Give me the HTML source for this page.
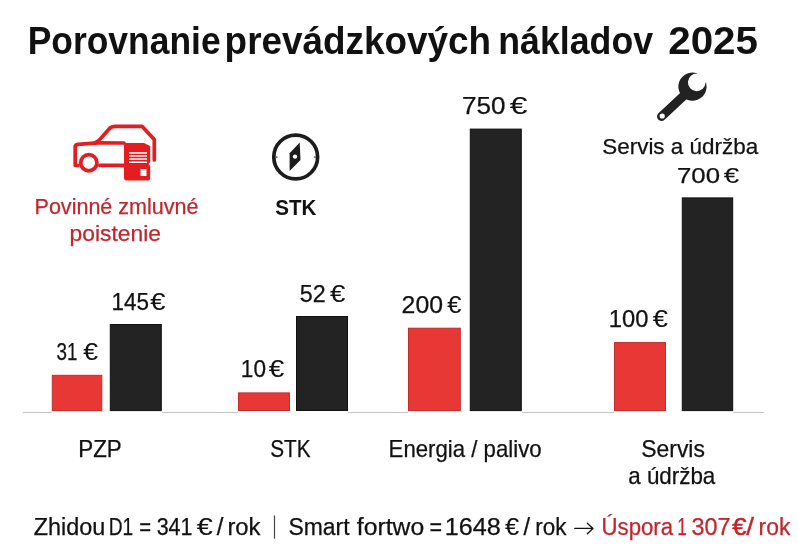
<!DOCTYPE html>
<html><head><meta charset="utf-8">
<style>
html,body{margin:0;padding:0;background:#fff;width:798px;height:557px;overflow:hidden}
svg{display:block;will-change:transform;filter:blur(0.35px)}
text{font-family:"Liberation Sans",sans-serif}
</style></head>
<body>
<svg width="798" height="557" viewBox="0 0 798 557">
<rect width="798" height="557" fill="#fff"/>
<!-- car icon -->
<g fill="none" stroke="#e31d20" stroke-width="3.7" stroke-linejoin="round" stroke-linecap="round">
  <path d="M78 165.3 L75.2 165.3 L75.2 147 Q75.2 144.5 78 144.3 L98 142.8 L124 143"/>
  <path d="M95 143 Q99 141 102 137 L110 128 Q112 126.3 115 126.3 L142 126.3 L154.3 139.5 L154.3 160"/>
  <path d="M99.8 165.3 L124 165.3"/>
  <circle cx="88.8" cy="162.7" r="8.1" stroke-width="3.7"/>
</g>
<path d="M124 143 L144 143 L150.2 146 L150.2 162 L148.5 164 L150.2 166 L150.2 178 Q150.2 180.5 147.5 180.5 L126.5 180.5 Q124 180.5 124 178 Z" fill="#e31d20"/>
<g fill="#fff">
  <rect x="129" y="152.2" width="18" height="1.5"/>
  <rect x="129" y="155.2" width="18" height="1.5"/>
  <rect x="129" y="158.3" width="18" height="1.5"/>
  <rect x="129" y="161.5" width="18" height="1.5"/>
  <rect x="140.5" y="169" width="6" height="7"/>
</g>
<!-- compass -->
<circle cx="295.7" cy="157" r="21.9" fill="none" stroke="#1c1c1c" stroke-width="3.7"/>
<rect x="275.6" y="156.6" width="2" height="1" fill="#1c1c1c"/><rect x="313.8" y="156.6" width="2" height="1" fill="#1c1c1c"/>
<path d="M299.7 142.4 L289.6 153.2 L289.6 171 L300.5 160 Z" fill="#1c1c1c"/>
<circle cx="295" cy="156.6" r="2.2" fill="#fff"/>
<!-- wrench -->
<path d="M696.3 73.1 Q697.2 72.9 697.4 73.6 A8.8 8.8 0 1 0 705.5 82.5 Q706.3 82.7 706.2 83.6 A14.1 14.1 0 1 1 696.3 73.1 Z" fill="#222"/>
<line x1="684" y1="95.5" x2="661.5" y2="116.5" stroke="#222" stroke-width="9" stroke-linecap="round"/>
<circle cx="662.2" cy="116" r="2.6" fill="#fff"/>
<!-- baseline -->
<rect x="23" y="412" width="28.8" height="1" fill="#c4c4c4"/>
<rect x="161.8" y="412" width="76.2" height="1" fill="#c4c4c4"/>
<rect x="348" y="412" width="60.0" height="1" fill="#c4c4c4"/>
<rect x="521.8" y="412" width="92.2" height="1" fill="#c4c4c4"/>
<rect x="733.2" y="412" width="30.8" height="1" fill="#c4c4c4"/>
<!-- bars -->
<rect x="52.3" y="375.3" width="49.5" height="35.3" fill="#e83836" stroke="#c42b2b" stroke-width="1"/>
<rect x="110.3" y="324.5" width="51.0" height="86.1" fill="#232323" stroke="#101010" stroke-width="1"/>
<rect x="238.5" y="392.9" width="51.0" height="17.6" fill="#e83836" stroke="#c42b2b" stroke-width="1"/>
<rect x="296.5" y="316.5" width="51.0" height="94.0" fill="#232323" stroke="#101010" stroke-width="1"/>
<rect x="408.5" y="328.2" width="51.8" height="82.4" fill="#e83836" stroke="#c42b2b" stroke-width="1"/>
<rect x="470.3" y="129.1" width="51.0" height="281.5" fill="#232323" stroke="#101010" stroke-width="1"/>
<rect x="614.5" y="342.6" width="51.0" height="68.0" fill="#e83836" stroke="#c42b2b" stroke-width="1"/>
<rect x="682.3" y="197.9" width="50.4" height="212.7" fill="#232323" stroke="#101010" stroke-width="1"/>
<!-- separator & arrow -->
<rect x="273.9" y="515.5" width="1.2" height="23.2" fill="#444"/>
<path d="M574.8 528.4 H592.8 M587.3 523.2 L593 528.4 L587.3 533.7" fill="none" stroke="#111" stroke-width="1.3" stroke-linecap="round" stroke-linejoin="round"/>

<text x="27.70" y="53.5" font-size="38.5" font-weight="bold" fill="#111" textLength="192.90" lengthAdjust="spacingAndGlyphs">Porovnanie</text><!-- f=0.920 -->
<text x="224.60" y="53.5" font-size="38.5" font-weight="bold" fill="#111" textLength="266.53" lengthAdjust="spacingAndGlyphs">prevádzkových</text><!-- f=0.958 -->
<text x="498.28" y="53.5" font-size="38.5" font-weight="bold" fill="#111" textLength="154.86" lengthAdjust="spacingAndGlyphs">nákladov</text><!-- f=0.928 -->
<text x="668.19" y="53.5" font-size="38.5" font-weight="bold" fill="#111" textLength="89.81" lengthAdjust="spacingAndGlyphs">2025</text><!-- f=1.049 -->
<text x="34.54" y="213.7" font-size="21.4" stroke="#c2262d" stroke-width="0.25" fill="#c2262d" textLength="163.96" lengthAdjust="spacingAndGlyphs">Povinné zmluvné</text><!-- f=1.007 -->
<text x="69.60" y="241.3" font-size="21.4" stroke="#c2262d" stroke-width="0.25" fill="#c2262d" textLength="91.33" lengthAdjust="spacingAndGlyphs">poistenie</text><!-- f=1.067 -->
<text x="275.21" y="215" font-size="22.4" font-weight="bold" fill="#111" textLength="41.15" lengthAdjust="spacingAndGlyphs">STK</text><!-- f=0.919 -->
<text x="602.27" y="153.9" font-size="21.7" stroke="#111" stroke-width="0.25" fill="#111" textLength="155.86" lengthAdjust="spacingAndGlyphs">Servis a údržba</text><!-- f=1.034 -->
<text x="56.52" y="360.4" font-size="24" stroke="#111" stroke-width="0.25" fill="#111" textLength="20.92" lengthAdjust="spacingAndGlyphs">31</text><!-- f=0.784 -->
<text x="83.22" y="360.4" font-size="24" stroke="#111" stroke-width="0.1" fill="#111" textLength="14.76" lengthAdjust="spacingAndGlyphs">€</text><!-- f=1.106 -->
<text x="111.46" y="309.8" font-size="24" stroke="#111" stroke-width="0.25" fill="#111" textLength="37.52" lengthAdjust="spacingAndGlyphs">145</text><!-- f=0.937 -->
<text x="150.22" y="309.8" font-size="24" stroke="#111" stroke-width="0.1" fill="#111" textLength="15.18" lengthAdjust="spacingAndGlyphs">€</text><!-- f=1.137 -->
<text x="240.85" y="377" font-size="24" stroke="#111" stroke-width="0.25" fill="#111" textLength="25.14" lengthAdjust="spacingAndGlyphs">10</text><!-- f=0.942 -->
<text x="268.81" y="377" font-size="24" stroke="#111" stroke-width="0.1" fill="#111" textLength="15.49" lengthAdjust="spacingAndGlyphs">€</text><!-- f=1.161 -->
<text x="299.83" y="301.8" font-size="24" stroke="#111" stroke-width="0.25" fill="#111" textLength="25.93" lengthAdjust="spacingAndGlyphs">52</text><!-- f=0.971 -->
<text x="330.01" y="301.8" font-size="24" stroke="#111" stroke-width="0.1" fill="#111" textLength="15.39" lengthAdjust="spacingAndGlyphs">€</text><!-- f=1.153 -->
<text x="401.61" y="313" font-size="24" stroke="#111" stroke-width="0.25" fill="#111" textLength="41.37" lengthAdjust="spacingAndGlyphs">200</text><!-- f=1.033 -->
<text x="447.34" y="313" font-size="24" stroke="#111" stroke-width="0.1" fill="#111" textLength="14.13" lengthAdjust="spacingAndGlyphs">€</text><!-- f=1.059 -->
<text x="461.94" y="114" font-size="24" stroke="#111" stroke-width="0.25" fill="#111" textLength="43.49" lengthAdjust="spacingAndGlyphs">750</text><!-- f=1.086 -->
<text x="509.87" y="114" font-size="24" stroke="#111" stroke-width="0.1" fill="#111" textLength="17.69" lengthAdjust="spacingAndGlyphs">€</text><!-- f=1.325 -->
<text x="608.77" y="327.4" font-size="24" stroke="#111" stroke-width="0.25" fill="#111" textLength="39.67" lengthAdjust="spacingAndGlyphs">100</text><!-- f=0.991 -->
<text x="652.82" y="327.4" font-size="24" stroke="#111" stroke-width="0.1" fill="#111" textLength="15.18" lengthAdjust="spacingAndGlyphs">€</text><!-- f=1.137 -->
<text x="676.97" y="183.2" font-size="22.6" stroke="#111" stroke-width="0.25" fill="#111" textLength="43.01" lengthAdjust="spacingAndGlyphs">700</text><!-- f=1.141 -->
<text x="723.89" y="183.2" font-size="22.6" stroke="#111" stroke-width="0.1" fill="#111" textLength="15.39" lengthAdjust="spacingAndGlyphs">€</text><!-- f=1.225 -->
<text x="78.27" y="456.5" font-size="23.2" stroke="#111" stroke-width="0.25" fill="#111" textLength="43.53" lengthAdjust="spacingAndGlyphs">PZP</text><!-- f=0.965 -->
<text x="270.21" y="456.9" font-size="23.2" stroke="#111" stroke-width="0.25" fill="#111" textLength="40.30" lengthAdjust="spacingAndGlyphs">STK</text><!-- f=0.894 -->
<text x="388.58" y="456.6" font-size="23.2" stroke="#111" stroke-width="0.25" fill="#111" textLength="153.05" lengthAdjust="spacingAndGlyphs">Energia / palivo</text><!-- f=0.958 -->
<text x="641.31" y="456.6" font-size="23.2" stroke="#111" stroke-width="0.25" fill="#111" textLength="63.60" lengthAdjust="spacingAndGlyphs">Servis</text><!-- f=0.987 -->
<text x="628.24" y="484.1" font-size="23.2" stroke="#111" stroke-width="0.25" fill="#111" textLength="87.05" lengthAdjust="spacingAndGlyphs">a údržba</text><!-- f=0.965 -->
<text x="33.74" y="534.8" font-size="23" stroke="#111" stroke-width="0.25" fill="#111" textLength="71.57" lengthAdjust="spacingAndGlyphs">Zhidou</text><!-- f=1.018 -->
<text x="108.84" y="534.8" font-size="23" stroke="#111" stroke-width="0.25" fill="#111" textLength="24.42" lengthAdjust="spacingAndGlyphs">D1</text><!-- f=0.830 -->
<text x="139.20" y="534.8" font-size="23" stroke="#111" stroke-width="0.25" fill="#111" textLength="11.84" lengthAdjust="spacingAndGlyphs">=</text><!-- f=0.882 -->
<text x="156.67" y="534.8" font-size="23" stroke="#111" stroke-width="0.25" fill="#111" textLength="35.78" lengthAdjust="spacingAndGlyphs">341</text><!-- f=0.932 -->
<text x="196.69" y="534.8" font-size="23" stroke="#111" stroke-width="0.1" fill="#111" textLength="16.08" lengthAdjust="spacingAndGlyphs">€</text><!-- f=1.257 -->
<text x="216.80" y="534.8" font-size="23" stroke="#111" stroke-width="0.25" fill="#111" textLength="6.65" lengthAdjust="spacingAndGlyphs">/</text><!-- f=1.040 -->
<text x="227.45" y="534.8" font-size="23" stroke="#111" stroke-width="0.25" fill="#111" textLength="33.10" lengthAdjust="spacingAndGlyphs">rok</text><!-- f=1.036 -->
<text x="288.40" y="534.8" font-size="23" stroke="#111" stroke-width="0.25" fill="#111" textLength="61.19" lengthAdjust="spacingAndGlyphs">Smart</text><!-- f=0.998 -->
<text x="356.83" y="534.8" font-size="23" stroke="#111" stroke-width="0.25" fill="#111" textLength="67.32" lengthAdjust="spacingAndGlyphs">fortwo</text><!-- f=1.075 -->
<text x="429.53" y="534.8" font-size="23" stroke="#111" stroke-width="0.25" fill="#111" textLength="12.58" lengthAdjust="spacingAndGlyphs">=</text><!-- f=0.936 -->
<text x="444.78" y="534.8" font-size="23" stroke="#111" stroke-width="0.25" fill="#111" textLength="56.02" lengthAdjust="spacingAndGlyphs">1648</text><!-- f=1.095 -->
<text x="504.92" y="534.8" font-size="23" stroke="#111" stroke-width="0.1" fill="#111" textLength="14.20" lengthAdjust="spacingAndGlyphs">€</text><!-- f=1.110 -->
<text x="523.60" y="534.8" font-size="23" stroke="#111" stroke-width="0.25" fill="#111" textLength="6.54" lengthAdjust="spacingAndGlyphs">/</text><!-- f=1.024 -->
<text x="535.24" y="534.8" font-size="23" stroke="#111" stroke-width="0.25" fill="#111" textLength="31.11" lengthAdjust="spacingAndGlyphs">rok</text><!-- f=0.974 -->
<text x="601.61" y="534.8" font-size="23" stroke="#c2262d" stroke-width="0.25" fill="#c2262d" textLength="71.48" lengthAdjust="spacingAndGlyphs">Úspora</text><!-- f=0.964 -->
<text x="677.19" y="534.8" font-size="23" stroke="#c2262d" stroke-width="0.25" fill="#c2262d" textLength="9.59" lengthAdjust="spacingAndGlyphs">1</text><!-- f=0.750 -->
<text x="691.58" y="534.8" font-size="23" stroke="#c2262d" stroke-width="0.25" fill="#c2262d" textLength="38.96" lengthAdjust="spacingAndGlyphs">307</text><!-- f=1.015 -->
<text x="732.32" y="534.8" font-size="23" stroke="#cc1f27" stroke-width="0.5" fill="#cc1f27" textLength="14.31" lengthAdjust="spacingAndGlyphs">€</text><!-- f=1.118 -->
<text x="746.30" y="534.8" font-size="23" stroke="#c2262d" stroke-width="0.35" fill="#c2262d" textLength="7.77" lengthAdjust="spacingAndGlyphs">/</text><!-- f=1.216 -->
<text x="758.61" y="534.8" font-size="23" stroke="#c2262d" stroke-width="0.25" fill="#c2262d" textLength="31.74" lengthAdjust="spacingAndGlyphs">rok</text><!-- f=0.993 -->
</svg>
</body></html>
